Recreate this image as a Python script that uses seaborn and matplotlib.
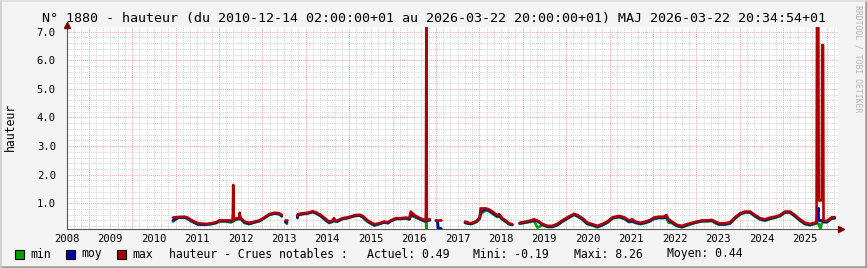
import numpy as np
import pandas as pd
import matplotlib
matplotlib.use("Agg")
import matplotlib.pyplot as plt
import seaborn as sns
from matplotlib.patches import Rectangle, Polygon
from matplotlib.lines import Line2D

# ---------------- data (decimal years, metres) ----------------
years_a = [2010.94, 2011.06, 2011.21, 2011.28, 2011.36, 2011.44, 2011.52, 2011.59, 2011.71, 2011.82,
           2011.94, 2012.01, 2012.13, 2012.28, 2012.32, 2012.33, 2012.34, 2012.40, 2012.47, 2012.48,
           2012.49, 2012.51, 2012.59, 2012.70, 2012.82, 2012.93, 2013.05, 2013.16, 2013.28, 2013.39, 2013.45]
max_a = [0.50, 0.52, 0.53, 0.50, 0.42, 0.36, 0.30, 0.29, 0.28, 0.30,
         0.34, 0.40, 0.40, 0.40, 0.40, 1.64, 0.42, 0.48, 0.48, 0.67,
         0.50, 0.48, 0.36, 0.32, 0.36, 0.40, 0.51, 0.62, 0.67, 0.65, 0.59]
moy_a = [0.40, 0.50, 0.51, 0.47, 0.39, 0.33, 0.27, 0.26, 0.26, 0.28,
         0.32, 0.38, 0.38, 0.37, 0.38, 0.60, 0.40, 0.45, 0.46, 0.55,
         0.47, 0.45, 0.33, 0.29, 0.34, 0.38, 0.49, 0.60, 0.65, 0.63, 0.56]
min_a = [0.36, 0.49, 0.50, 0.45, 0.37, 0.31, 0.25, 0.25, 0.25, 0.27,
         0.31, 0.36, 0.37, 0.33, 0.36, 0.40, 0.38, 0.43, 0.45, 0.48,
         0.45, 0.43, 0.31, 0.27, 0.33, 0.37, 0.48, 0.59, 0.64, 0.61, 0.54]

years_b = [2013.53, 2013.57]
max_b = [0.42, 0.42]
moy_b = [0.36, 0.33]
min_b = [0.33, 0.28]

years_c = [2013.81, 2013.82, 2013.93, 2014.04, 2014.16, 2014.24, 2014.35, 2014.47, 2014.54, 2014.62,
           2014.65, 2014.68, 2014.73, 2014.85, 2014.97, 2015.12, 2015.24, 2015.31, 2015.43, 2015.58,
           2015.69, 2015.81, 2015.89, 2015.96, 2016.08, 2016.19, 2016.31, 2016.39, 2016.42, 2016.50,
           2016.61, 2016.73, 2016.77, 2016.78, 2016.79, 2016.86]
max_c = [0.55, 0.62, 0.65, 0.67, 0.72, 0.68, 0.59, 0.44, 0.36, 0.40,
         0.48, 0.40, 0.40, 0.48, 0.51, 0.58, 0.60, 0.56, 0.40, 0.27,
         0.30, 0.36, 0.34, 0.40, 0.48, 0.48, 0.50, 0.48, 0.71, 0.59,
         0.50, 0.42, 0.40, 8.26, 0.42, 0.44]
moy_c = [0.50, 0.60, 0.63, 0.65, 0.70, 0.66, 0.56, 0.41, 0.33, 0.37,
         0.44, 0.38, 0.37, 0.46, 0.49, 0.56, 0.58, 0.53, 0.37, 0.24,
         0.28, 0.34, 0.31, 0.38, 0.46, 0.46, 0.48, 0.45, 0.62, 0.56,
         0.47, 0.39, 0.37, 0.85, 0.40, 0.42]
min_c = [0.48, 0.58, 0.62, 0.64, 0.69, 0.64, 0.54, 0.38, 0.31, 0.35,
         0.42, 0.36, 0.36, 0.45, 0.48, 0.55, 0.57, 0.51, 0.35, 0.22,
         0.27, 0.33, 0.30, 0.37, 0.45, 0.45, 0.47, 0.43, 0.55, 0.53,
         0.45, 0.37, 0.35, 0.10, 0.38, 0.40]

years_d = [2017.00, 2017.04, 2017.05, 2017.12]
max_d = [0.42, 0.42, 0.42, 0.42]
moy_d = [0.40, 0.38, 0.12, 0.12]
min_d = [0.38, 0.36, 0.12, 0.12]

years_e = [2017.67, 2017.80, 2017.88, 2017.95, 2018.01, 2018.03, 2018.15, 2018.22, 2018.30, 2018.41,
           2018.46, 2018.53, 2018.61, 2018.68, 2018.76]
max_e = [0.36, 0.30, 0.34, 0.40, 0.51, 0.82, 0.82, 0.79, 0.71, 0.59, 0.62, 0.48, 0.40, 0.30, 0.27]
moy_e = [0.33, 0.28, 0.32, 0.38, 0.48, 0.70, 0.79, 0.75, 0.67, 0.55, 0.57, 0.45, 0.37, 0.28, 0.25]
min_e = [0.31, 0.27, 0.31, 0.36, 0.46, 0.62, 0.76, 0.72, 0.64, 0.52, 0.54, 0.43, 0.35, 0.27, 0.24]

years_f = [2018.93, 2019.07, 2019.18, 2019.26, 2019.34, 2019.45, 2019.57, 2019.68, 2019.80, 2019.91,
           2020.03, 2020.18, 2020.26, 2020.38, 2020.49, 2020.61, 2020.72, 2020.84, 2020.95, 2021.07,
           2021.22, 2021.34, 2021.45, 2021.52, 2021.60, 2021.71, 2021.83, 2021.94, 2022.02, 2022.13,
           2022.25, 2022.31, 2022.36, 2022.44, 2022.55, 2022.67, 2022.78, 2022.90, 2023.01, 2023.13,
           2023.24, 2023.36, 2023.44, 2023.53, 2023.66, 2023.78, 2023.89, 2024.01, 2024.12, 2024.24,
           2024.35, 2024.47, 2024.58, 2024.70, 2024.81, 2024.93, 2025.04, 2025.16, 2025.27, 2025.39,
           2025.50, 2025.62, 2025.73, 2025.77, 2025.78, 2025.81, 2025.82, 2025.86, 2025.89, 2025.90,
           2025.92, 2025.93, 2026.00, 2026.04, 2026.12, 2026.19]
max_f = [0.32, 0.36, 0.40, 0.44, 0.40, 0.28, 0.21, 0.21, 0.28, 0.40,
         0.51, 0.63, 0.59, 0.48, 0.32, 0.27, 0.21, 0.28, 0.36, 0.51,
         0.56, 0.51, 0.40, 0.44, 0.36, 0.32, 0.36, 0.42, 0.50, 0.53,
         0.53, 0.59, 0.44, 0.36, 0.25, 0.21, 0.27, 0.32, 0.36, 0.40,
         0.40, 0.42, 0.36, 0.30, 0.30, 0.34, 0.51, 0.65, 0.71, 0.71,
         0.59, 0.48, 0.44, 0.50, 0.53, 0.59, 0.71, 0.71, 0.59, 0.44,
         0.32, 0.28, 0.32, 0.34, 7.60, 7.60, 1.10, 1.10, 1.10, 6.53,
         6.53, 0.40, 0.38, 0.42, 0.51, 0.51]
moy_f = [0.30, 0.34, 0.37, 0.41, 0.37, 0.26, 0.19, 0.19, 0.25, 0.37,
         0.48, 0.61, 0.56, 0.44, 0.29, 0.24, 0.18, 0.25, 0.34, 0.49,
         0.53, 0.48, 0.36, 0.38, 0.33, 0.29, 0.33, 0.39, 0.47, 0.50,
         0.50, 0.52, 0.40, 0.33, 0.22, 0.18, 0.24, 0.30, 0.34, 0.38,
         0.38, 0.40, 0.33, 0.27, 0.27, 0.31, 0.48, 0.63, 0.69, 0.69,
         0.56, 0.45, 0.41, 0.47, 0.51, 0.57, 0.69, 0.69, 0.56, 0.41,
         0.29, 0.25, 0.30, 0.32, 0.50, 0.83, 0.40, 0.40, 0.40, 0.40,
         0.38, 0.36, 0.35, 0.39, 0.48, 0.49]
min_f = [0.28, 0.32, 0.35, 0.38, 0.15, 0.24, 0.17, 0.17, 0.23, 0.35,
         0.46, 0.59, 0.54, 0.42, 0.27, 0.22, 0.16, 0.23, 0.32, 0.47,
         0.51, 0.45, 0.34, 0.36, 0.31, 0.27, 0.31, 0.37, 0.45, 0.48,
         0.48, 0.49, 0.32, 0.31, 0.20, 0.16, 0.22, 0.28, 0.33, 0.37,
         0.37, 0.38, 0.30, 0.25, 0.25, 0.29, 0.46, 0.61, 0.67, 0.67,
         0.54, 0.43, 0.39, 0.45, 0.49, 0.55, 0.67, 0.67, 0.54, 0.39,
         0.27, 0.23, 0.28, 0.30, 0.30, 0.30, 0.25, 0.12, 0.30, 0.32,
         0.34, 0.34, 0.33, 0.37, 0.46, 0.47]

year_labels = list(range(2008, 2026))
y_tick_values = [1.0, 2.0, 3.0, 4.0, 5.0, 6.0, 7.0]

title = "N° 1880 - hauteur (du 2010-12-14 02:00:00+01 au 2026-03-22 20:00:00+01) MAJ 2026-03-22 20:34:54+01"
legend_names = ["min", "moy", "max"]
legend_colors = ["#00a000", "#0000a0", "#a00000"]
stats_texts = ["hauteur - Crues notables :", "Actuel: 0.49", "Mini: -0.19", "Maxi: 8.26", "Moyen: 0.44"]

# ---------------- build table ----------------
frames = []
for seg, (yy, mx, mo, mi) in enumerate([(years_a, max_a, moy_a, min_a), (years_b, max_b, moy_b, min_b),
                                         (years_c, max_c, moy_c, min_c), (years_d, max_d, moy_d, min_d),
                                         (years_e, max_e, moy_e, min_e), (years_f, max_f, moy_f, min_f)]):
    frames.append(pd.DataFrame({"year": yy, "max": mx, "moy": mo, "min": mi, "seg": seg}))
df = pd.concat(frames, ignore_index=True)

# ---------------- figure ----------------
sns.set_theme(style="white")
plt.rcParams["font.family"] = ["DejaVu Sans Mono"]

W, H = 867, 268
BG = "#f3f3f3"
fig = plt.figure(figsize=(W / 100, H / 100), dpi=100, facecolor=BG)

def fx(x):
    return x / W

def fy(y):
    return 1 - y / H

L, R, T, B = 67, 838, 27, 228.5
ax = fig.add_axes([fx(L), fy(B), (R - L) / W, (B - T) / H])
ax.set_facecolor("white")
XMIN, XMAX = 2008.532, 2026.264
YMIN, YMAX = 0.119, 7.164
ax.set_xlim(XMIN, XMAX)
ax.set_ylim(YMIN, YMAX)

# grids
minor_c = "#d4d4d4"
major_c = "#f0a8a8"
for yv in np.arange(0.2, 7.1, 0.2):
    if abs(yv - round(yv)) > 1e-6:
        ax.axhline(yv, color=minor_c, lw=0.7, ls=(0, (1, 1)), zorder=0.5)
for yv in y_tick_values:
    ax.axhline(yv, color=major_c, lw=0.7, ls=(0, (1, 1)), zorder=0.6)
for k in range(2008 * 6, 2027 * 6):
    xv = k / 6
    if XMIN < xv < XMAX and k % 6 != 0:
        ax.axvline(xv, color=minor_c, lw=0.7, ls=(0, (1, 1)), zorder=0.5)
for yr in range(2009, 2027):
    ax.axvline(yr, color=major_c, lw=0.7, ls=(0, (1, 1)), zorder=0.6)

# series
lw = 1.9
sns.lineplot(data=df, x="year", y="min", units="seg", estimator=None, sort=False,
             color="#00a000", lw=lw, ax=ax, legend=False, zorder=2)
sns.lineplot(data=df, x="year", y="moy", units="seg", estimator=None, sort=False,
             color="#0000b0", lw=lw, ax=ax, legend=False, zorder=3)
sns.lineplot(data=df, x="year", y="max", units="seg", estimator=None, sort=False,
             color="#aa0000", lw=lw, ax=ax, legend=False, zorder=4)

# axes styling
for s in ["top", "right"]:
    ax.spines[s].set_visible(False)
for s in ["left", "bottom"]:
    ax.spines[s].set_color("#555555")
    ax.spines[s].set_linewidth(0.8)
ax.set_xticks([y + 0.5 for y in year_labels])
ax.set_xticklabels([str(y) for y in year_labels], fontsize=7.6)
ax.set_yticks(y_tick_values)
ax.set_yticklabels([f"{v:.1f}" for v in y_tick_values], fontsize=7.6)
ax.tick_params(axis="x", length=0, pad=4, colors="black")
ax.tick_params(axis="y", length=2, width=0.6, color="#777777", pad=6, labelcolor="black")
ax.set_xlabel("")
ax.set_ylabel("")

# arrows
ax.plot([1.004], [0], marker=">", ms=5, color="#7a0000", transform=ax.transAxes, clip_on=False, zorder=6)
ax.plot([0], [1.012], marker="^", ms=5, color="#7a0000", transform=ax.transAxes, clip_on=False, zorder=6)

# texts
fig.text(fx(433.5), fy(18.3), title, ha="center", va="center", fontsize=9.6, color="black")
fig.text(fx(10), fy(127), "hauteur", rotation=90, ha="center", va="center", fontsize=8.3, color="black")
fig.text(fx(858), fy(59), "RRDTOOL / TOBI OETIKER", rotation=270, ha="center", va="center",
         fontsize=5.9, color="#b4b4b4")

# legend
box_x = [15, 66, 117]
name_x = [30, 81, 132]
ly = 254
for bx, nx, name, col in zip(box_x, name_x, legend_names, legend_colors):
    fig.add_artist(Rectangle((fx(bx), fy(ly + 4.5)), 9 / W, 9 / H, transform=fig.transFigure,
                             facecolor=col, edgecolor="black", lw=0.8))
    fig.text(fx(nx), fy(ly), name, ha="left", va="center", fontsize=8.3, color="black")
stats_x = [169, 366.7, 473.3, 574, 666.7]
for sx, st in zip(stats_x, stats_texts):
    fig.text(fx(sx), fy(ly), st, ha="left", va="center", fontsize=8.3, color="black")

# frame shading
fig.add_artist(Line2D([0, 1], [fy(266.8), fy(266.8)], transform=fig.transFigure, color="#9a9a9a", lw=1.8))
fig.add_artist(Line2D([fx(865.8), fx(865.8)], [0, 1], transform=fig.transFigure, color="#9a9a9a", lw=1.8))
fig.add_artist(Line2D([fx(0.6), fx(0.6)], [0, 1], transform=fig.transFigure, color="#cbcbcb", lw=1.2))
fig.add_artist(Line2D([0, 1], [fy(0.6), fy(0.6)], transform=fig.transFigure, color="#dcdcdc", lw=1.2))

fig.savefig("out.png", dpi=100, facecolor=BG)
